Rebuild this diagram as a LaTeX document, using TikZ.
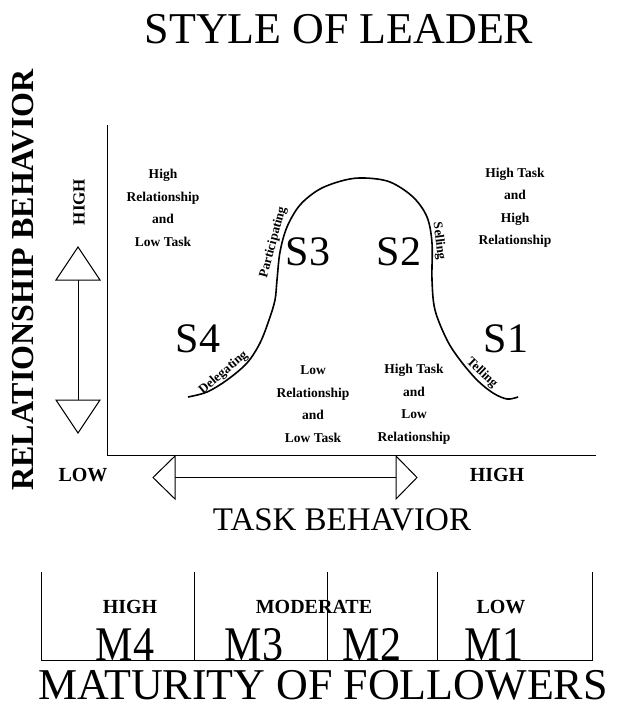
\documentclass[tikz,border=0pt]{standalone}
\usepackage{fontspec}
\setmainfont{Liberation Serif}
\begin{document}
\begin{tikzpicture}[x=1pt,y=-1pt,
  headline/.style={font=\fontsize{44}{44}\selectfont, inner sep=0pt},
  axistitle/.style={font=\fontsize{33}{33}\selectfont, inner sep=0pt},
  styletag/.style={font=\fontsize{42}{42}\selectfont, inner sep=0pt},
  levelword/.style={font=\bfseries\fontsize{20}{20}\selectfont, inner sep=0pt},
  quadrant/.style={font=\bfseries\fontsize{13.5}{22.5}\selectfont, align=center, inner sep=0pt},
  curvetag/.style={font=\bfseries\fontsize{13}{13}\selectfont, inner sep=0.8pt, anchor=south},
  frame/.style={line width=1pt},
  bell/.style={line width=1.6pt},
  openarrow/.style={line width=1pt, fill=white, line join=miter}]
\useasboundingbox (0,0) rectangle (619,706);

% ---- title ----
\node[headline] (title) at (339,29) {STYLE OF LEADER};

% ---- axes ----
\coordinate (ytop) at (107,125);
\coordinate (origin) at (107,455);
\coordinate (xend) at (596,455);
\draw[frame] (ytop) -- (origin) -- (xend);

% ---- vertical double arrow ----
\coordinate (vtip1) at (78,247);
\coordinate (vbase1) at (78,280);
\coordinate (vbase2) at (78,400);
\coordinate (vtip2) at (78,433);
\draw[frame] (vbase1) -- (vbase2);
\draw[openarrow] (vtip1) -- ([xshift=-22pt]vbase1) -- ([xshift=22pt]vbase1) -- cycle;
\draw[openarrow] (vtip2) -- ([xshift=-22pt]vbase2) -- ([xshift=22pt]vbase2) -- cycle;

% ---- horizontal double arrow ----
\coordinate (htip1) at (153,477.5);
\coordinate (hbase1) at (175,477.5);
\coordinate (hbase2) at (396,477.5);
\coordinate (htip2) at (417,477.5);
\draw[frame] (hbase1) -- (hbase2);
\draw[openarrow] (htip1) -- ([yshift=-21.5pt]hbase1) -- ([yshift=21.5pt]hbase1) -- cycle;
\draw[openarrow] (htip2) -- ([yshift=-21.5pt]hbase2) -- ([yshift=21.5pt]hbase2) -- cycle;

% ---- axis labels ----
\node[font=\bfseries\fontsize{32}{32}\selectfont, inner sep=0pt, rotate=90] (ylabel) at (23,280) {RELATIONSHIP BEHAVIOR};
\node[levelword, font=\bfseries\fontsize{17}{17}\selectfont, rotate=90] (yhigh) at (79,202) {HIGH};
\node[levelword] (xlow) at (83,475) {LOW};
\node[levelword] (xhigh) at (497,475) {HIGH};
\node[axistitle] (xlabel) at (342,520) {TASK BEHAVIOR};

% ---- bell curve ----
\draw[bell] plot[smooth, tension=0.55] coordinates {
  (188,397) (207,392) (227,380) (247,363) (260,343) (269,320) (275,300)
  (277,280) (280,252) (287,227) (300,205) (320,189) (345,180) (365,178)
  (390,182) (413,197) (427,217) (432,243) (432,280) (435,310) (447,340)
  (460,360) (477,380) (493,393) (507,399) (518,397)};

% ---- style names along the curve ----
\node[curvetag, rotate=75] (participating) at (280,244) {Participating};
\node[curvetag, rotate=-83] (selling) at (432,242) {Selling};
\node[curvetag, rotate=40] (delegating) at (228,378) {Delegating};
\node[curvetag, rotate=-44] (telling) at (477,378) {Telling};

% ---- leadership styles ----
\node[styletag] (s3) at (308,252) {S3};
\node[styletag] (s2) at (399,252) {S2};
\node[styletag] (s4) at (198,339) {S4};
\node[styletag] (s1) at (506,339) {S1};

% ---- quadrant descriptions ----
\node[quadrant] (q4) at (163,208) {High\\Relationship\\and\\Low Task};
\node[quadrant] (q1) at (515,208) {High Task\\and\\High\\Relationship};
\node[quadrant] (q3) at (313,404) {Low\\Relationship\\and\\Low Task};
\node[quadrant] (q2) at (414,404) {High Task\\and\\Low\\Relationship};

% ---- maturity scale ----
\coordinate (ma) at (41,572);
\coordinate (mb) at (41,660);
\coordinate (mc) at (592,660);
\coordinate (md) at (592,572);
\draw[frame] (ma) -- (mb) -- (mc) -- (md);
\foreach \xx/\nm in {194/one,327/two,437/three}{
  \coordinate (top\nm) at (\xx,572);
  \coordinate (bot\nm) at (\xx,660);
  \draw[frame] (top\nm) -- (bot\nm);
}
\node[levelword] (mhigh) at (130,607) {HIGH};
\node[levelword] (mmod) at (314,607) {MODERATE};
\node[levelword] (mlow) at (501,607) {LOW};
\node[styletag, anchor=base] (m4) at (125,660) {\scalebox{1}[1.15]{M4}};
\node[styletag, anchor=base] (m3) at (254,660) {\scalebox{1}[1.15]{M3}};
\node[styletag, anchor=base] (m2) at (372,660) {\scalebox{1}[1.15]{M2}};
\node[styletag, anchor=base] (m1) at (494,660) {\scalebox{1}[1.15]{M1}};
\node[headline, font=\fontsize{44}{44}\selectfont, anchor=base] (mlabel) at (323,699) {MATURITY OF FOLLOWERS};
\end{tikzpicture}
\end{document}
